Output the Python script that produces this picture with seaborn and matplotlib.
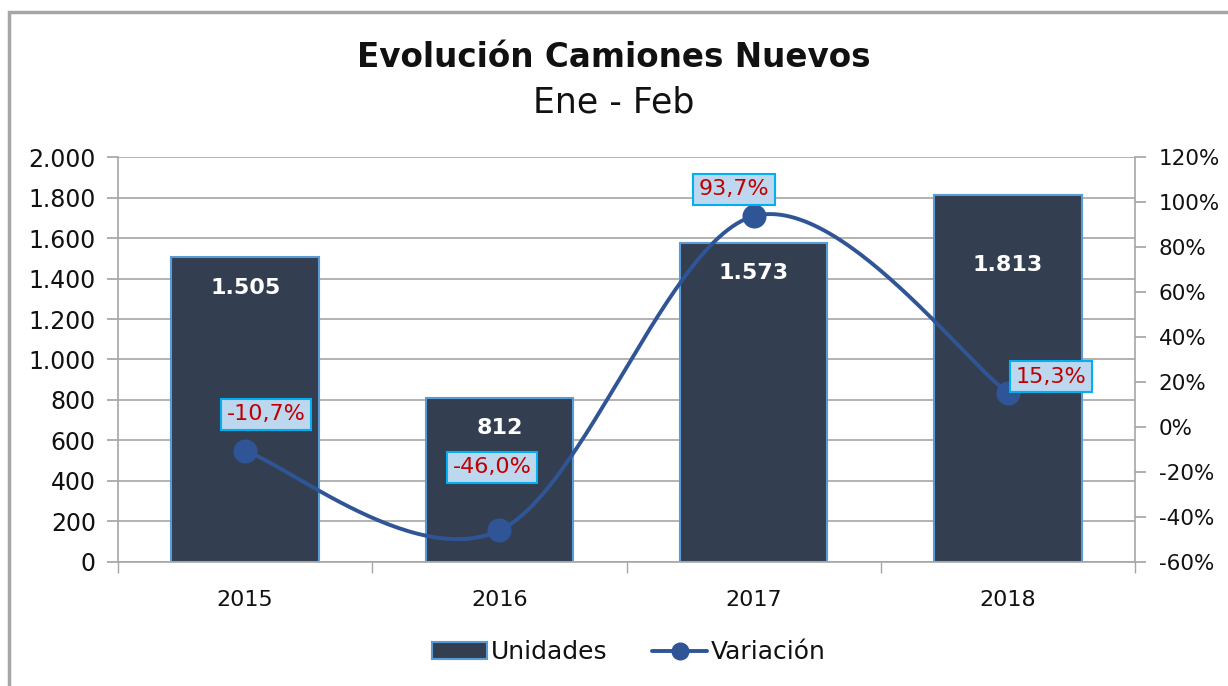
import matplotlib
matplotlib.use('Agg')
import matplotlib.pyplot as plt
import numpy as np
import pandas as pd
import seaborn as sns
from matplotlib.lines import Line2D
from matplotlib.patches import Patch, Rectangle

# data
years = ['2015', '2016', '2017', '2018']
unidades = [1505, 812, 1573, 1813]
variacion = [-0.107, -0.460, 0.937, 0.153]

unidades_lbl = ['1.505', '812', '1.573', '1.813']
variacion_lbl = ['-10,7%', '-46,0%', '93,7%', '15,3%']

BAR = '#333F50'
BAR_EDGE = '#5B9BD5'
LINE = '#2F5597'
GRID = '#A6A6A6'
TXT = '#111111'

sns.set_theme(style='white')
plt.rcParams['font.family'] = ['DejaVu Sans']
plt.rcParams['text.color'] = TXT
plt.rcParams['xtick.color'] = TXT
plt.rcParams['ytick.color'] = TXT


def smooth(xs, ys, n=60):
    # excel-like smoothed line (catmull-rom as cubic bezier)
    pts = np.column_stack([xs, ys]).astype(float)
    ext = np.vstack([pts[0], pts, pts[-1]])
    out = []
    t = np.linspace(0, 1, n)[:, None]
    for i in range(len(pts) - 1):
        p0, p1, p2, p3 = ext[i], ext[i + 1], ext[i + 2], ext[i + 3]
        b1 = p1 + (p2 - p0) / 6
        b2 = p2 - (p3 - p1) / 6
        seg = (1 - t) ** 3 * p1 + 3 * (1 - t) ** 2 * t * b1 + 3 * (1 - t) * t ** 2 * b2 + t ** 3 * p2
        out.append(seg)
    out = np.vstack(out)
    return out[:, 0], out[:, 1]


df = pd.DataFrame({'year': years, 'unidades': unidades, 'variacion': variacion})

fig = plt.figure(figsize=(12.28, 6.86), dpi=100)
ax = fig.add_axes([0.0961, 0.1808, 0.8282, 0.5903])

sns.barplot(data=df, x='year', y='unidades', color=BAR, width=0.58,
            edgecolor=BAR_EDGE, linewidth=1.5, saturation=1, ax=ax)

ax.set_ylim(0, 2000)
ax.set_xlim(-0.5, 3.5)
ax.set_yticks(np.arange(0, 2001, 200))
ax.set_yticklabels([f'{v:,}'.replace(',', '.') for v in range(0, 2001, 200)])
ax.set_xticks(range(4))
ax.set_xticklabels(years)
ax.set_xticks(np.arange(-0.5, 3.6, 1), minor=True)
ax.tick_params(axis='x', which='major', length=0, pad=20, labelsize=16)
ax.tick_params(axis='x', which='minor', length=8, color=GRID, direction='out', bottom=True)
ax.tick_params(axis='y', length=8, color=GRID, direction='out', left=True, labelsize=17, pad=8)
ax.set_xlabel('')
ax.set_ylabel('')
ax.yaxis.grid(True, color=GRID, linewidth=1.2)
ax.set_axisbelow(True)
for s in ['left', 'bottom', 'right']:
    ax.spines[s].set_color(GRID)
    ax.spines[s].set_linewidth(1.2)
ax.spines['top'].set_visible(False)

# bar value labels (inside end)
lbl_off = [31, 30, 30, 70]
for i, (v, t) in enumerate(zip(unidades, unidades_lbl)):
    ax.annotate(t, (i, v), xytext=(0, -lbl_off[i]), textcoords='offset pixels',
                ha='center', va='center', color='white', fontsize=16, fontweight='bold')

ax2 = ax.twinx()
ax2.set_ylim(-0.6, 1.2)
ax2.set_yticks(np.arange(-0.6, 1.21, 0.2))
ax2.set_yticklabels([f'{round(v * 100)}%' for v in np.arange(-0.6, 1.21, 0.2)])
ax2.tick_params(axis='y', length=8, color=GRID, direction='out', right=True, labelsize=15.5, pad=9)
ax2.grid(False)
for s in ax2.spines.values():
    s.set_visible(False)

sx, sy = smooth(range(4), variacion)
ax2.plot(sx, sy, color=LINE, linewidth=2.8, zorder=3)
sns.scatterplot(x=list(range(4)), y=variacion, color=LINE, s=300, edgecolor=LINE,
                linewidth=0, zorder=4, ax=ax2)

# variacion labels
lbl_pos = [(21, 37), (-7, 63), (-20, 27), (43, 16)]
for i, (v, t) in enumerate(zip(variacion, variacion_lbl)):
    ax2.annotate(t, (i, v), xytext=lbl_pos[i], textcoords='offset pixels',
                 ha='center', va='center', color='#C00000', fontsize=16, zorder=5,
                 bbox=dict(boxstyle='square,pad=0.25', fc='#BDD7EE', ec='#00B0F0', lw=1.5))

fig.text(0.5, 0.916, 'Evolución Camiones Nuevos', ha='center', va='center',
         fontsize=23.5, fontweight='bold')
fig.text(0.5, 0.851, 'Ene - Feb', ha='center', va='center', fontsize=25)

handles = [Patch(facecolor=BAR, edgecolor=BAR_EDGE, linewidth=1.5, label='Unidades'),
           Line2D([0], [0], color=LINE, linewidth=2.8, marker='o', markersize=12, label='Variación')]
fig.legend(handles=handles, loc='center', bbox_to_anchor=(0.512, 0.049), ncol=2, frameon=False,
           fontsize=18, handlelength=2.2, handletextpad=0.15, columnspacing=1.8)

fig.patches.append(Rectangle((9 / 1228, -0.01), 1.2, 1 - 12 / 686 + 0.01, transform=fig.transFigure,
                             fill=False, edgecolor=GRID, linewidth=2.5))

fig.savefig('out.png', dpi=100)
